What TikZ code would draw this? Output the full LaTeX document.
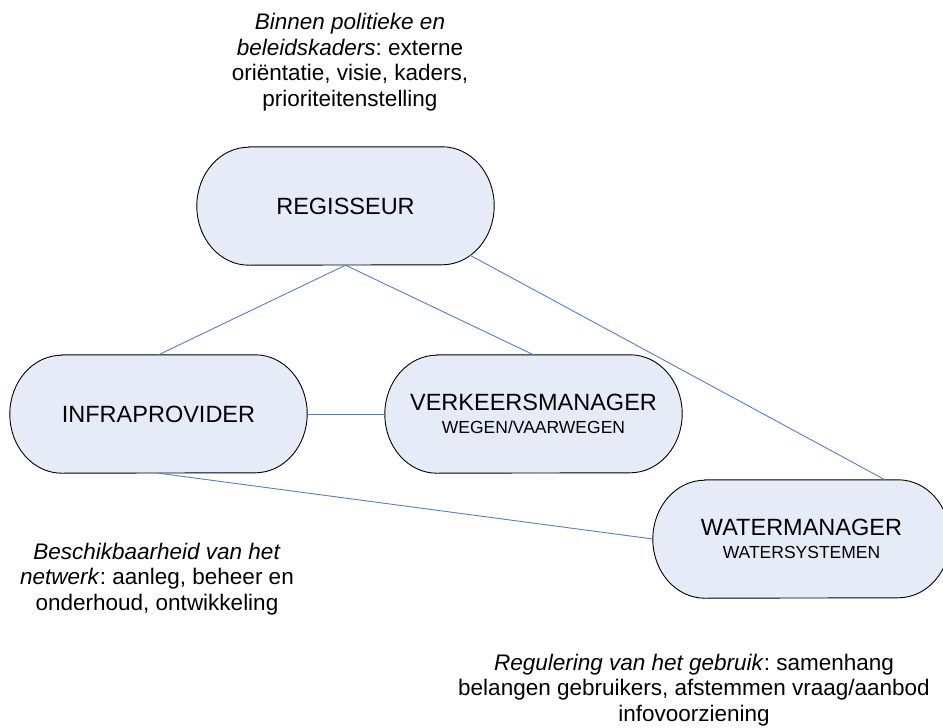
\documentclass[tikz,border=0pt]{standalone}
\usepackage{fontspec}
\setmainfont{Liberation Sans}
\usetikzlibrary{calc,backgrounds}
\frenchspacing

\definecolor{rolefill}{RGB}{230,236,247}
\definecolor{linkblue}{RGB}{79,129,201}

\tikzset{
  role/.style={minimum width=297pt, minimum height=118pt,
    align=center, inner sep=0pt, font=\fontsize{23.5}{27}\selectfont},
  roleshape/.style={draw=black, fill=rolefill, line width=0.9pt},
  link/.style={draw=linkblue, line width=0.9pt},
  note/.style={align=center, font=\fontsize{22.5}{25.5}\selectfont, inner sep=0pt}
}
% small second line inside a role node
\newcommand{\rolesub}[1]{{\fontsize{17.5}{20}\selectfont #1}}

\begin{document}
\begin{tikzpicture}[x=1pt, y=-1pt]
  \useasboundingbox (0,0) rectangle (943,728);

  % role nodes (text only; outlines drawn behind)
  \node[role] (reg) at (345.5,206) {REGISSEUR};
  \node[role] (infra) at (158.5,414) {INFRAPROVIDER};
  \node[role] (verk) at (533.5,414)
    {VERKEERSMANAGER\\[-4pt]\rolesub{WEGEN/VAARWEGEN}};
  \node[role] (water) at (801.5,539)
    {WATERMANAGER\\[-4pt]\rolesub{WATERSYSTEMEN}};

  % rounded outlines with elliptical ends
  \begin{pgfonlayer}{background}
    \foreach \n in {reg,infra,verk,water} {
      \draw[roleshape]
        ($(\n.north west)+(52,0)$) -- ($(\n.north east)+(-52,0)$)
        arc[start angle=90, end angle=-90, x radius=52pt, y radius=59pt]
        -- ($(\n.south west)+(52,0)$)
        arc[start angle=270, end angle=90, x radius=52pt, y radius=59pt]
        -- cycle;
    }
  \end{pgfonlayer}

  % connections
  \draw[link] (reg.south) -- (infra.north);
  \draw[link] (reg.south) -- (verk.north);
  \draw[link] ($(reg.south)+(124.5,-10)$) -- ($(water.north)+(83.5,0)$);
  \draw[link] (infra.east) -- (verk.west);
  \draw[link] (infra.south) -- (water.west);

  % descriptions
  \node[note] (notereg) at (350,62)
    {\textit{Binnen politieke en}\\
     \textit{beleidskaders}: externe\\
     oriëntatie, visie, kaders,\\
     prioriteitenstelling};
  \node[note] (noteinfra) at (157,579)
    {\textit{Beschikbaarheid van het}\\
     \textit{netwerk}: aanleg, beheer en\\
     onderhoud, ontwikkeling};
  \node[note] (noteverk) at (694,690)
    {\textit{Regulering van het gebruik}: samenhang\\
     belangen gebruikers, afstemmen vraag/aanbod\\
     infovoorziening};
\end{tikzpicture}
\end{document}
